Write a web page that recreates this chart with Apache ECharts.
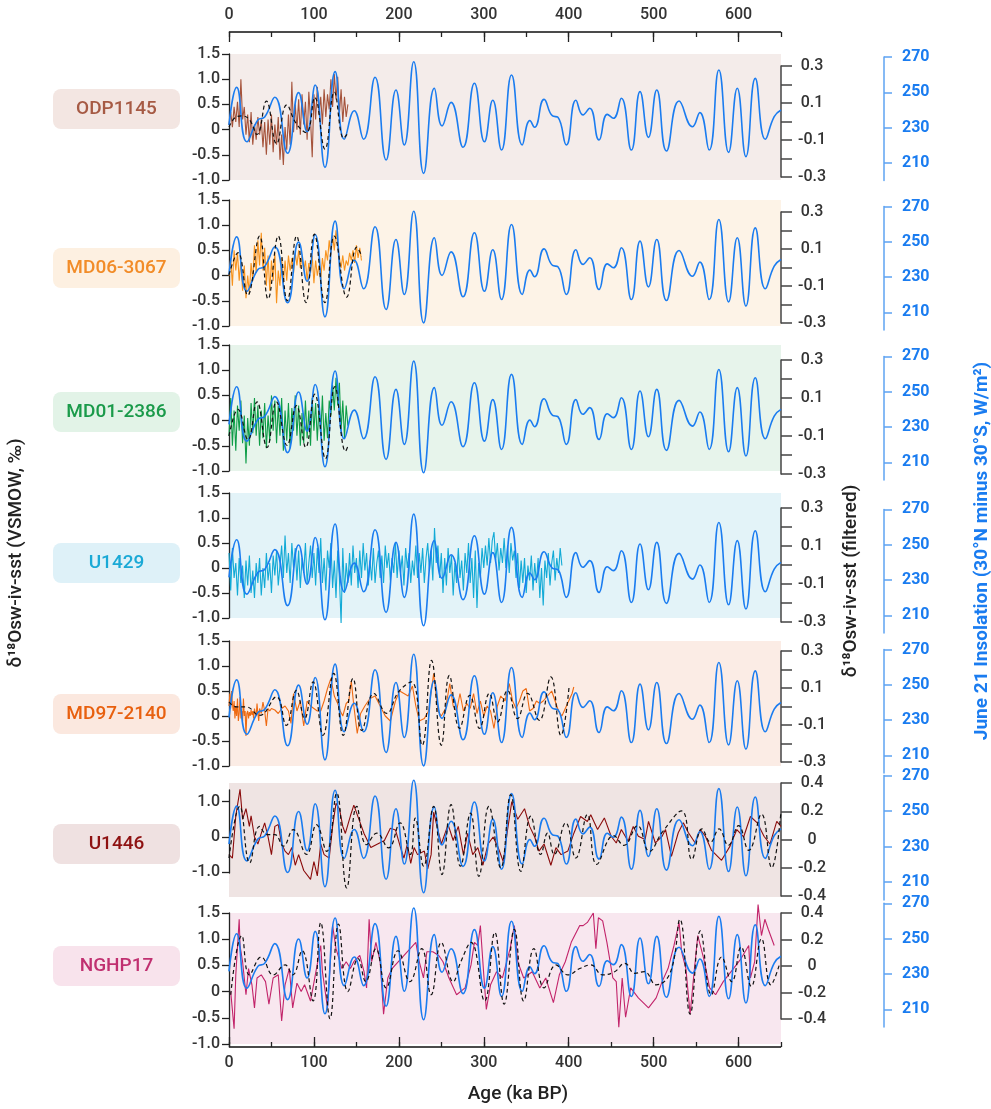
<!DOCTYPE html>
<html>
<head>
<meta charset="utf-8">
<script src="https://cdn.jsdelivr.net/npm/echarts@6/dist/echarts.min.js"></script>
<style>
html, body { margin: 0; padding: 0; background: #fff; }
#wrap { position: relative; width: 991px; height: 1109px; }
#chart { position: absolute; left: 0; top: 0; width: 991px; height: 1109px; }
#topAxis { position: absolute; left: 0; top: 0; width: 991px; height: 60px; pointer-events: none; }
</style>
</head>
<body>
<div id="wrap"><div id="chart"></div><div id="topAxis"></div></div>
<script>
// ---- axis ticks ----
const ageLabels = [0, 100, 200, 300, 400, 500, 600];
const insolationTicks = [210, 230, 250, 270];

// ---- June 21 insolation (30N minus 30S), read at turning points ----
const insolationAge = [0, 9, 21, 34, 42, 54, 69, 82, 92, 101.5, 113, 125, 135.7, 147.5, 158.5, 172, 185, 196.6, 206.4, 217.5,
  229.2, 241.8, 250.9, 261.5, 275.6, 289, 300.8, 310.6, 320.9, 332.7, 345.3, 354.3, 359.8, 371, 381, 387.3, 397.2, 408.5,
  416.8, 424.7, 435.7, 445.5, 452.6, 462, 473.8, 484, 493.9, 503.7, 515.1, 530, 545.8, 554.4, 565.4, 576.8, 588.3, 598.5,
  608.7, 619.7, 631.5, 642, 650];
const insolationValue = [231.5, 252.8, 222, 234.3, 236, 247.2, 215.5, 249.8, 227.7, 254.1, 207.5, 261.7, 223.4, 239.6, 223.4, 258.5, 211.7, 251.3, 220.2, 267.3,
  204.1, 252.3, 231, 244.3, 218.9, 255.1, 222, 245.5, 217.3, 259.8, 220.2, 234, 230.2, 246, 236.6, 235.9, 220.2, 245.5,
  237.2, 241, 223, 237.5, 235.3, 246.6, 217.3, 250.4, 224.5, 251.3, 216.8, 245.1, 230.5, 238.5, 217.3, 262.6, 216, 252.3,
  213.6, 257.9, 223.4, 236.2, 240];

// ---- proxy records (d18Osw-iv-sst, per mil), evenly sampled ones: start 0, step 2 ka ----
const odp1145 = [0.1, 0.35, 0.05, 0.45, 0.15, 0.55, 0.05, 1.0, 0.2, 0.45, -0.1, 0.3, -0.25, 0.35, -0.3, 0.1, -0.2, 0.25, -0.1, 0.2,
  -0.35, 0.15, -0.5, 0.2, -0.3, 0.3, -0.45, 0.1, -0.3, 0.25, -0.6, -0.1, -0.7, 0.05, -0.4, 0.3, -0.3, 0.95, -0.05, 0.5,
  0.0, 0.6, -0.1, 0.7, 0.1, 0.55, -0.2, 0.75, 0.2, -0.55, 0.7, 0.2, 0.85, 0.3, 0.65, 0.1, 0.8, 0.25, 0.7, 0.4,
  1.0, 0.45, 1.1, 0.6, 1.05, 0.3, 0.8, 0.15, 0.65, 0.25, 0.5];
const md063067 = [0.0, 0.35, -0.2, 0.5, 0.1, 0.45, -0.1, 0.3, -0.3, 0.2, -0.45, 0.0, -0.35, 0.25, -0.1, 0.6, 0.05, 0.7, 0.2, 0.85,
  0.1, 0.55, -0.2, 0.4, -0.3, 0.3, -0.1, 0.45, -0.55, 0.1, -0.2, 0.35, -0.15, 0.3, -0.1, 0.4, 0.1, 0.35, 0.05, 0.45,
  0.2, 0.5, 0.15, 0.4, 0.1, 0.3, -0.1, 0.25, 0.05, 0.4, -0.15, 0.3, 0.0, 0.2, -0.1, 0.35, 0.1, 0.5, 0.3, 0.7,
  0.4, 0.8, 0.5, 0.9, 0.6, 0.35, 0.15, 0.4, 0.1, 0.3, 0.2, 0.45, 0.3, 0.5, 0.25, 0.6, 0.35, 0.55, 0.3];
const md012386 = [-0.3, 0.45, -0.5, 0.2, -0.6, 0.3, -0.2, 0.4, -0.45, 0.1, -0.85, 0.05, -0.5, 0.35, -0.25, 0.45, -0.3, 0.3, -0.5, 0.2,
  -0.35, 0.35, -0.55, 0.1, -0.4, 0.5, -0.2, 0.4, -0.45, 0.3, -0.3, 0.45, -0.6, 0.2, -0.4, 0.35, -0.55, 0.25, -0.2, 0.5,
  -0.3, 0.3, -0.5, 0.15, -0.45, 0.4, -0.35, 0.2, -0.5, 0.45, -0.2, 0.35, -0.4, 0.3, -0.3, 0.5, -0.4, 0.15, -0.35, 0.4,
  0.1, 0.7, 0.2, 0.85, 0.3, 0.75, -0.2, 0.4, -0.35, 0.3, -0.1];
const u1429 = [0.3, -0.45, 0.4, -0.2, 0.1, -0.55, 0.2, -0.3, 0.05, -0.6, 0.15,
  -0.35, 0.25, -0.5, -0.05, -0.6, 0.1, -0.3, 0.2, -0.55, 0.0,
  -0.4, 0.3, -0.25, 0.1, -0.5, 0.25, -0.15, 0.35, -0.35, 0.05,
  0.45, -0.2, 0.65, -0.1, 0.3, -0.3, 0.5, 0.0, 0.4, -0.25,
  0.35, -0.4, 0.2, -0.1, 0.5, -0.3, 0.1, 0.45, -0.2, 0.3,
  -0.35, 0.4, -0.1, 0.6, -0.3, 0.2, -0.45, 0.35, 0.0, 0.5,
  -0.4, 0.15, -0.6, 0.35, -0.2, -1.1, 0.4, -0.5, 0.1, -0.3,
  0.3, -0.35, 0.45, -0.1, 0.2, -0.4, 0.35, -0.2, 0.5, -0.05,
  0.3, -0.35, 0.15, -0.25, 0.4, -0.3, 0.1, 0.35, -0.2, 0.25,
  -0.3, 0.45, 0.0, 0.3, -0.25, 0.2, -0.1, 0.5, -0.2, 0.35,
  -0.1, 0.25, -0.35, 0.4, 0.0, 0.3, -0.3, 0.15, -0.15, 0.45,
  -0.2, 0.3, -0.1, 0.4, -0.3, 0.2, 0.5, -0.05, 0.35, -0.25,
  0.8, 0.1, 0.45, -0.2, 0.3, -0.5, 0.2, -0.35, 0.4, -0.1,
  0.25, -0.55, 0.1, -0.3, 0.4, -0.2, 0.15, -0.45, 0.3, -0.1,
  0.5, -0.3, 0.2, -0.6, 0.35, -0.8, 0.1, -0.2, 0.4, 0.0,
  0.45, 0.05, 0.6, 0.1, 0.55, 0.72, 0.15, 0.5, -0.05, 0.4,
  0.1, 0.6, 0.0, 0.45, -0.1, 0.5, 0.15, 0.35, -0.2, 0.3,
  -0.4, 0.15, -0.3, 0.2, -0.5, 0.05, -0.25, 0.25, -0.45, 0.1,
  -0.3, 0.2, -0.6, 0.0, -0.75, 0.15, -0.2, 0.3, -0.35, 0.1,
  0.35, -0.25, 0.2, -0.1, 0.4, 0.05];

// ---- unevenly sampled records: [age ka, value] ----
const md972140 = [[0,0.2],[1,0.45],[2,0.15],[3,0.5],[4,0.25],[5,0.1],[6,0.3],[7,-0.05],[8,0.2],[9,0.0],[10,0.35],[11,-0.1],[12,0.05],
  [13,0.38],[14,-0.05],[15,0.1],[16,-0.1],[17,0.35],[18,0.0],[19,0.1],[20,-0.4],[21,0.05],[22,0.1],[23,-0.05],[24,0.08],[25,0.0],
  [26,0.12],[27,0.02],[28,0.1],[29,-0.05],[30,0.15],[31,0.05],[32,0.0],[33,0.25],[34,0.05],[35,-0.1],[36,0.15],[38,0.05],[40,0.28],
  [42,0.1],[44,-0.2],[46,0.15],[48,0.1],[50,0.15],[54,0.12],[58,0.05],[62,0.15],[66,0.2],[70,0.1],[73,-0.15],[76,0.45],[80,0.1],
  [84,0.3],[88,-0.2],[92,0.3],[96,0.2],[100,0.15],[104,0.1],[108,0.1],[112,0.3],[116,0.55],[120,0.75],[124,0.4],[128,0.25],[131,0.1],
  [134,0.0],[138,0.25],[141,0.3],[144,0.7],[147,0.2],[151,-0.35],[155,0.05],[160,0.2],[166,0.35],[172,0.4],[178,0.2],[184,0.0],
  [190,-0.1],[196,0.3],[201,0.5],[206,0.45],[211,0.4],[216,0.6],[220,0.2],[224,-0.1],[230,-0.05],[235,0.1],[241,0.85],[246,0.1],
  [250,0.0],[255,0.15],[260,0.65],[264,0.2],[268,0.1],[272,0.45],[276,0.1],[280,0.25],[284,0.15],[288,0.45],[292,0.05],[296,0.3],
  [300,0.0],[304,0.2],[308,0.1],[312,-0.25],[316,0.2],[320,0.4],[325,0.3],[330,0.65],[334,0.3],[338,0.15],[342,0.3],[346,0.5],
  [350,0.55],[354,0.1],[358,0.15],[362,0.3],[366,0.25],[370,0.3],[375,0.4],[380,0.5],[384,0.3],[388,0.1],[392,0.0],[396,0.15],
  [400,0.3],[404,0.45],[406,0.58]];
const u1446 = [[0,-0.5],[4,-0.6],[8,0.6],[13,1.35],[16,0.5],[20,0.8],[24,0.3],[26,0.6],[30,0.0],[34,-0.2],[38,0.1],[42,0.4],[46,0.0],
  [50,-0.5],[54,0.3],[58,0.35],[62,-0.2],[66,-0.4],[70,-0.5],[74,-0.3],[78,-0.8],[82,-0.5],[88,-0.95],[96,-1.2],[100,-0.7],[104,-1.1],
  [108,-0.2],[112,-0.5],[118,-0.6],[122,0.3],[126,0.95],[130,0.8],[134,0.3],[137,0.1],[143,0.6],[147,0.9],[153,0.5],[159,0.1],
  [167,-0.3],[175,-0.2],[183,-0.1],[190,0.25],[196,0.2],[202,-0.3],[206,-0.6],[210,-0.2],[214,-0.75],[218,-0.3],[222,-0.5],[230,-0.4],
  [234,-0.9],[238,-0.5],[241,0.7],[246,0.2],[250,-0.2],[258,0.35],[264,-0.1],[270,0.3],[276,-0.5],[281,0.1],[287,-0.5],[293,-0.3],
  [299,-0.8],[305,-0.2],[311,0.0],[317,-0.3],[323,-0.7],[328,0.2],[333,1.0],[340,0.5],[348,0.8],[354,0.3],[360,0.0],[365,-0.4],
  [371,-0.2],[379,-0.8],[385,-0.3],[391,-0.5],[399,-0.4],[406,0.1],[414,0.58],[422,0.44],[426,0.63],[434,0.21],[442,0.54],[450,0.02],
  [456,-0.17],[462,0.21],[470,-0.12],[476,0.3],[482,0.02],[490,-0.07],[494,0.44],[502,-0.17],[510,0.02],[514,0.21],[521,-0.55],
  [529,0.12],[535,0.4],[541,0.12],[549,-0.17],[555,0.21],[561,0.02],[568,-0.37],[580,-0.66],[590,-0.26],[598,0.21],[606,0.0],
  [614,0.58],[622,0.4],[630,0.02],[637,-0.2],[645,0.44],[650,0.3]];
const nghp17 = [[2,0.0],[6,-0.71],[8,0.32],[12,1.38],[13,0.88],[16,0.57],[20,-0.06],[23,0.44],[27,0.13],[30,-0.31],[33,0.26],[38,0.32],
  [43,0.19],[47,-0.24],[52,0.26],[58,0.32],[62,-0.56],[66,0.13],[71,0.44],[75,-0.31],[80,0.16],[85,0.0],[89,0.13],[96,-0.18],[103,0.44],
  [108,0.88],[110,0.38],[116,-0.31],[122,1.26],[126,0.82],[133,0.44],[138,0.57],[143,0.44],[147,0.57],[154,0.69],[159,0.38],[162,0.07],
  [165,1.38],[168,0.57],[173,0.94],[178,0.57],[182,-0.43],[187,0.26],[192,0.44],[220,0.94],[224,0.57],[229,0.26],[233,0.76],[240,0.76],
  [247,0.69],[252,0.57],[259,0.26],[268,-0.06],[278,0.07],[285,0.51],[289,0.94],[293,0.88],[296,1.26],[300,0.32],[303,-0.34],[308,0.13],
  [315,0.38],[322,0.26],[331,0.82],[336,1.26],[340,0.57],[347,0.26],[357,0.38],[366,0.07],[373,0.26],[382,-0.21],[389,0.32],[396,0.57],
  [403,0.94],[413,1.26],[417,1.26],[422,1.32],[429,1.5],[432,0.82],[435,1.41],[440,1.35],[445,0.94],[452,0.26],[456,0.19],[459,-0.68],
  [463,0.26],[467,-0.49],[473,0.07],[482,-0.12],[494,-0.31],[503,-0.12],[510,0.19],[517,0.44],[524,0.88],[530,1.32],[533,0.76],
  [538,0.44],[543,-0.43],[547,0.26],[552,1.07],[559,0.63],[566,0.07],[573,-0.06],[582,0.19],[594,0.44],[603,0.63],[612,0.88],[614,0.26],
  [619,0.57],[623,1.66],[625,1.69],[627,1.07],[631,1.38],[635,1.19],[642,0.88]];

// ---- filtered records (right axis), [age ka, value] ----
const odp1145Filt = [[0,-0.03],[7,0.02],[15,0.03],[24,0.01],[33,-0.07],[44,0.11],[56,-0.12],[68,0.09],[79,-0.01],[91,-0.06],[101,0.13],
  [113,-0.15],[124,0.16],[135,-0.09],[139,-0.07]];
const md063067Filt = [[0,-0.04],[10.6,0.08],[22,-0.15],[36,0.17],[46,-0.17],[58,0.17],[68.6,-0.18],[79.6,0.17],[90.6,-0.19],[100.5,0.18],
  [113,-0.19],[124,0.17],[138.6,-0.16],[150.5,0.11],[156.5,0.06]];
const md012386Filt = [[0,-0.1],[10.6,0.04],[22.4,-0.12],[33,0.08],[44.8,-0.16],[55.8,0.08],[68.4,-0.15],[79.4,0.06],[90.4,-0.16],[101,0.12],
  [113.6,-0.22],[124.6,0.16],[137.2,-0.18],[140.3,-0.15]];
const md972140Filt = [[0,0.025],[8.6,-0.002],[20,-0.002],[36,-0.048],[55.8,0.052],[67.5,-0.102],[79.4,0.087],[89,-0.065],[99,0.133],
  [110.7,-0.156],[123.3,0.179],[134.5,-0.156],[146,0.152],[156.4,-0.129],[170.5,0.071],[185.7,-0.037],[199.6,0.079],[215,0.133],
  [227.5,-0.21],[238.5,0.249],[250,-0.21],[259.5,0.168],[271.5,-0.118],[283.5,0.06],[295,-0.118],[306.5,0.071],[316.3,-0.083],
  [328,0.087],[339.7,-0.065],[351.6,0.071],[365.4,-0.075],[379,0.16],[390.8,-0.156],[400.6,0.114]];
const u1446Filt = [[0,-0.131],[12.6,0.235],[24.4,-0.166],[36,0.093],[45,0.035],[54,0.035],[64,-0.047],[75.6,0.07],[91.4,-0.106],[103,0.105],
  [115,-0.084],[126.8,0.329],[138.6,-0.343],[150.5,0.235],[162,-0.037],[174,0.045],[187.8,-0.059],[201.5,0.118],[213.5,-0.106],
  [219.4,0.152],[229.2,-0.189],[241,0.235],[250.8,-0.248],[261.5,0.247],[272.5,-0.189],[284.4,0.187],[294.2,-0.261],[306,0.235],
  [320,-0.201],[331.7,0.317],[343.6,-0.226],[355.3,0.165],[367,-0.106],[375,0.045],[383,-0.106],[396.5,0.118],[408.4,-0.131],
  [422,0.177],[433,-0.176],[453,0.028],[465,-0.042],[481,0.098],[495,-0.084],[510,0.05],[533,0.202],[545,-0.141],[557,0.075],
  [567,-0.019],[577,0.075],[588,-0.042],[600,0.098],[612,-0.077],[627,0.18],[639,-0.2],[650,0.2]];
const nghp17Filt = [[2,-0.217],[15,0.23],[24,-0.067],[38,0.068],[52,-0.067],[66,0.008],[75,-0.067],[86,0.115],[99,-0.264],[108,0.328],
  [119,-0.398],[129,0.317],[140,-0.193],[152,0.056],[161,-0.118],[173,0.131],[185,-0.165],[199,0.115],[213,-0.118],[227,0.131],
  [238,-0.217],[250,0.178],[264,-0.118],[273,0.032],[285,0.178],[301,-0.264],[313,0.253],[324,-0.288],[336,0.277],[347,-0.264],
  [359,0.131],[371,-0.165],[385,0.008],[399,-0.067],[413,-0.019],[426,0.008],[440,-0.067],[454,-0.043],[466,0.02],[478,-0.055],
  [489,-0.043],[503,-0.142],[520,-0.043],[531,0.352],[543,-0.363],[555,0.265],[568,-0.217],[580,0.068],[592,-0.118],[603,0.143],
  [615,-0.154],[627,0.206],[638,-0.142],[648,0.008]];

function evenly(values, step) {
  return values.map((v, i) => [i * step, v]);
}
const insolation = insolationAge.map((a, i) => [a, insolationValue[i]]);

// ---- layout of the seven stacked panels ----
const FONT = 'Roboto, "Noto Sans", sans-serif';
const panels = [
  { name: 'ODP1145', tagY: 109, tagBg: '#f3e6e2', tagColor: '#a65a44', bg: '#f4ecea', color: '#a5533b',
    box: [54, 180], left: [54, 180, -1, 1.5], right: [66, 177, 0.3], ins: [57, 180.6],
    proxy: evenly(odp1145, 2), filt: odp1145Filt },
  { name: 'MD06-3067', tagY: 268, tagBg: '#fdf0e1', tagColor: '#f28c28', bg: '#fdf3e7', color: '#f7931e',
    box: [200, 326], left: [200, 326, -1, 1.5], right: [212, 323, 0.3], ins: [206.5, 330.1],
    proxy: evenly(md063067, 2), filt: md063067Filt },
  { name: 'MD01-2386', tagY: 412, tagBg: '#e2f3e7', tagColor: '#1a9a4a', bg: '#e7f4eb', color: '#0f9d48',
    box: [345, 471], left: [345, 471, -1, 1.5], right: [360, 474, 0.3], ins: [356.4, 480],
    proxy: evenly(md012386, 2), filt: md012386Filt },
  { name: 'U1429', tagY: 563, tagBg: '#def1f8', tagColor: '#1aa9d6', bg: '#e3f3f8', color: '#12aad6',
    box: [493, 618], left: [493, 618, -1, 1.5], right: [508, 622, 0.3], ins: [509.4, 633],
    proxy: evenly(u1429, 2), filt: null },
  { name: 'MD97-2140', tagY: 714, tagBg: '#fbe8df', tagColor: '#e8600f', bg: '#fbece5', color: '#ee6a12',
    box: [641, 766], left: [641, 766, -1, 1.5], right: [651, 762, 0.3], ins: [649.5, 773.1],
    proxy: md972140, filt: md972140Filt },
  { name: 'U1446', tagY: 844, tagBg: '#efe1e1', tagColor: '#8e1212', bg: '#efe4e3', color: '#8a0b0b',
    box: [783, 897], left: [790, 873, -1.02, 1.33], right: [783, 896, 0.4], ins: [775.5, 900],
    proxy: u1446, filt: u1446Filt },
  { name: 'NGHP17', tagY: 966, tagBg: '#f8e3ec', tagColor: '#c03070', bg: '#f8e7ef', color: '#c2246a',
    box: [913, 1044], left: [913, 1044, -1, 1.5], right: [913, 1019, 0.4], ins: [903.3, 1027],
    proxy: nghp17, filt: nghp17Filt }
];

const fmt = v => (v === 0 ? '0' : v.toFixed(1));
const tickLabel = { fontSize: 16, color: '#333', fontWeight: 500, fontFamily: FONT };
const INK = '#222';
const hiddenX = { type: 'value', min: 0, max: 650, show: false };

// age axis: a hairline grid border for the axis line, split lines of thin grids for the ticks,
// and the labels from one more thin grid
function ageAxis(target, lineY, ticksDown, labelPos, labelEdge, labelMargin) {
  const { grids, xAxis, yAxis } = target;
  grids.push({ left: 229, right: 210, top: lineY - 0.25, height: 0.5, show: true,
    backgroundColor: 'transparent', borderColor: INK, borderWidth: 1 });
  xAxis.push(Object.assign({ gridIndex: grids.length - 1 }, hiddenX));
  yAxis.push({ type: 'value', gridIndex: grids.length - 1, show: false, min: 0, max: 1 });
  [[100, 10], [50, 5]].forEach(([step, len]) => {
    const g = grids.length;
    grids.push({ left: 229, right: 210, top: ticksDown ? lineY : lineY - len, height: len, show: false });
    xAxis.push({ type: 'value', gridIndex: g, min: 0, max: 650, interval: step,
      axisLine: { show: false, onZero: false }, axisTick: { show: false }, axisLabel: { show: false },
      splitLine: { show: true, showMinLine: true, showMaxLine: step === 50, lineStyle: { color: INK, width: 1.3 } } });
    yAxis.push({ type: 'value', gridIndex: g, min: 0, max: 1, show: false });
  });
  const g = grids.length;
  grids.push({ left: 229, right: 210, top: labelPos === 'top' ? labelEdge : labelEdge - 2, height: 2, show: false });
  xAxis.push({ type: 'value', gridIndex: g, min: 0, max: 650, position: labelPos,
    axisLine: { show: false, onZero: false }, axisTick: { show: false }, splitLine: { show: false },
    axisLabel: Object.assign({ customValues: ageLabels, margin: labelMargin }, tickLabel) });
  yAxis.push({ type: 'value', gridIndex: g, min: 0, max: 1, show: false });
}

// ---------- main chart ----------
const main = { grids: [], xAxis: [], yAxis: [] };
const series = [], graphic = [];

function addGrid(top, bottom, yOpt, bg) {
  const g = main.grids.length;
  main.grids.push({ left: 229, right: 210, top: top, height: bottom - top, show: !!bg,
    backgroundColor: bg || 'transparent', borderWidth: 0 });
  main.xAxis.push(Object.assign({ gridIndex: g }, hiddenX));
  main.yAxis.push(Object.assign({ type: 'value', gridIndex: g, splitLine: { show: false } }, yOpt));
  return { x: main.xAxis.length - 1, y: main.yAxis.length - 1 };
}

panels.forEach((p) => {
  // background
  addGrid(p.box[0], p.box[1], { show: false, min: 0, max: 1 }, p.bg);

  // left axis: proxy record
  const isU1446 = p.name === 'U1446';
  const left = addGrid(p.left[0], p.left[1], {
    min: p.left[2], max: p.left[3], position: 'left',
    axisLine: { show: true, onZero: false, lineStyle: { color: INK, width: 1.3 } },
    axisTick: { show: true, length: 7, lineStyle: { color: INK, width: 1.3 },
      customValues: isU1446 ? [-1, 0, 1] : [-1, -0.5, 0, 0.5, 1, 1.5] },
    axisLabel: Object.assign({ margin: 9, formatter: fmt,
      customValues: isU1446 ? [-1, 0, 1] : [-1, -0.5, 0, 0.5, 1, 1.5] }, tickLabel)
  });
  series.push({ type: 'line', xAxisIndex: left.x, yAxisIndex: left.y, data: p.proxy, showSymbol: false,
    clip: false, z: 3, lineStyle: { color: p.color, width: 1.1 }, silent: true });

  // right axis: filtered record
  const r = p.right[2];
  const rTicks = r === 0.3 ? [-0.3, -0.2, -0.1, 0, 0.1, 0.2, 0.3] : [-0.4, -0.2, 0, 0.2, 0.4];
  const rLabels = r === 0.3 ? [-0.3, -0.1, 0.1, 0.3] : [-0.4, -0.2, 0, 0.2, 0.4];
  const right = addGrid(p.right[0], p.right[1], {
    min: -r, max: r, position: 'right',
    axisLine: { show: true, onZero: false, lineStyle: { color: '#444', width: 1.5 } },
    axisTick: { show: true, length: 11, customValues: rTicks, lineStyle: { color: '#444', width: 1.5 } },
    axisLabel: Object.assign({ margin: 31, align: 'center', formatter: fmt, customValues: rLabels }, tickLabel)
  });
  if (p.filt) {
    series.push({ type: 'line', xAxisIndex: right.x, yAxisIndex: right.y, data: p.filt, showSymbol: false,
      smooth: 0.45, clip: false, z: 5, silent: true,
      lineStyle: { color: '#111', width: 1.2, type: [4, 3] } });
  }

  // insolation axis
  const ins = addGrid(p.ins[0], p.ins[1], {
    min: 200, max: 270, position: 'right', offset: 103,
    axisLine: { show: true, onZero: false, lineStyle: { color: '#5ea3f2', width: 1.5 } },
    axisTick: { show: true, length: 8, customValues: insolationTicks, lineStyle: { color: '#5ea3f2', width: 1.5 } },
    axisLabel: { margin: 18, align: 'left', customValues: insolationTicks, fontSize: 16, fontWeight: 'bold',
      color: '#1a7cf0', fontFamily: FONT }
  });
  series.push({ type: 'line', xAxisIndex: ins.x, yAxisIndex: ins.y, data: insolation, showSymbol: false,
    smooth: 0.5, clip: false, z: 4, silent: true, lineStyle: { color: '#1a7cf0', width: 1.6 } });

  // core name tag
  graphic.push({ type: 'rect', left: 53, top: p.tagY - 20, shape: { width: 127, height: 40, r: 8 },
    style: { fill: p.tagBg }, z: 1 });
  graphic.push({ type: 'text', x: 116.5, y: p.tagY, z: 2,
    style: { text: p.name, fill: p.tagColor, font: '500 19px ' + FONT, align: 'center', verticalAlign: 'middle',
      textAlign: 'center', textVerticalAlign: 'middle' } });
});

ageAxis(main, 1047, false, 'bottom', 1047, 8);

// axis titles
function vtext(x, y, text, fill, weight) {
  return { type: 'text', x: x, y: y, rotation: Math.PI / 2, z: 2,
    style: { text: text, fill: fill, font: weight + ' 19px ' + FONT, align: 'center', verticalAlign: 'middle',
      textAlign: 'center', textVerticalAlign: 'middle' } };
}
graphic.push(vtext(16, 553, 'δ¹⁸Osw-iv-sst (VSMOW, ‰)', '#222', 500));
graphic.push(vtext(851, 581, 'δ¹⁸Osw-iv-sst (filtered)', '#222', 500));
graphic.push(vtext(982, 551, 'June 21 Insolation (30°N minus 30°S, W/m²)', '#1a7cf0', 'bold'));
graphic.push({ type: 'text', x: 518, y: 1094, z: 2,
  style: { text: 'Age (ka BP)', fill: '#222', font: '500 19px ' + FONT, align: 'center', verticalAlign: 'middle',
    textAlign: 'center', textVerticalAlign: 'middle' } });

const chart = echarts.init(document.getElementById('chart'));
chart.setOption({
  animation: false,
  backgroundColor: '#fff',
  grid: main.grids,
  xAxis: main.xAxis,
  yAxis: main.yAxis,
  series: series,
  graphic: graphic
});

// ---------- top age axis, drawn by a second, transparent instance laid over the top strip ----------
const topPart = { grids: [], xAxis: [], yAxis: [] };
ageAxis(topPart, 32, true, 'top', 32, 9);
const topChart = echarts.init(document.getElementById('topAxis'));
topChart.setOption({
  animation: false,
  backgroundColor: 'transparent',
  grid: topPart.grids,
  xAxis: topPart.xAxis,
  yAxis: topPart.yAxis,
  series: []
});
</script>
</body>
</html>
